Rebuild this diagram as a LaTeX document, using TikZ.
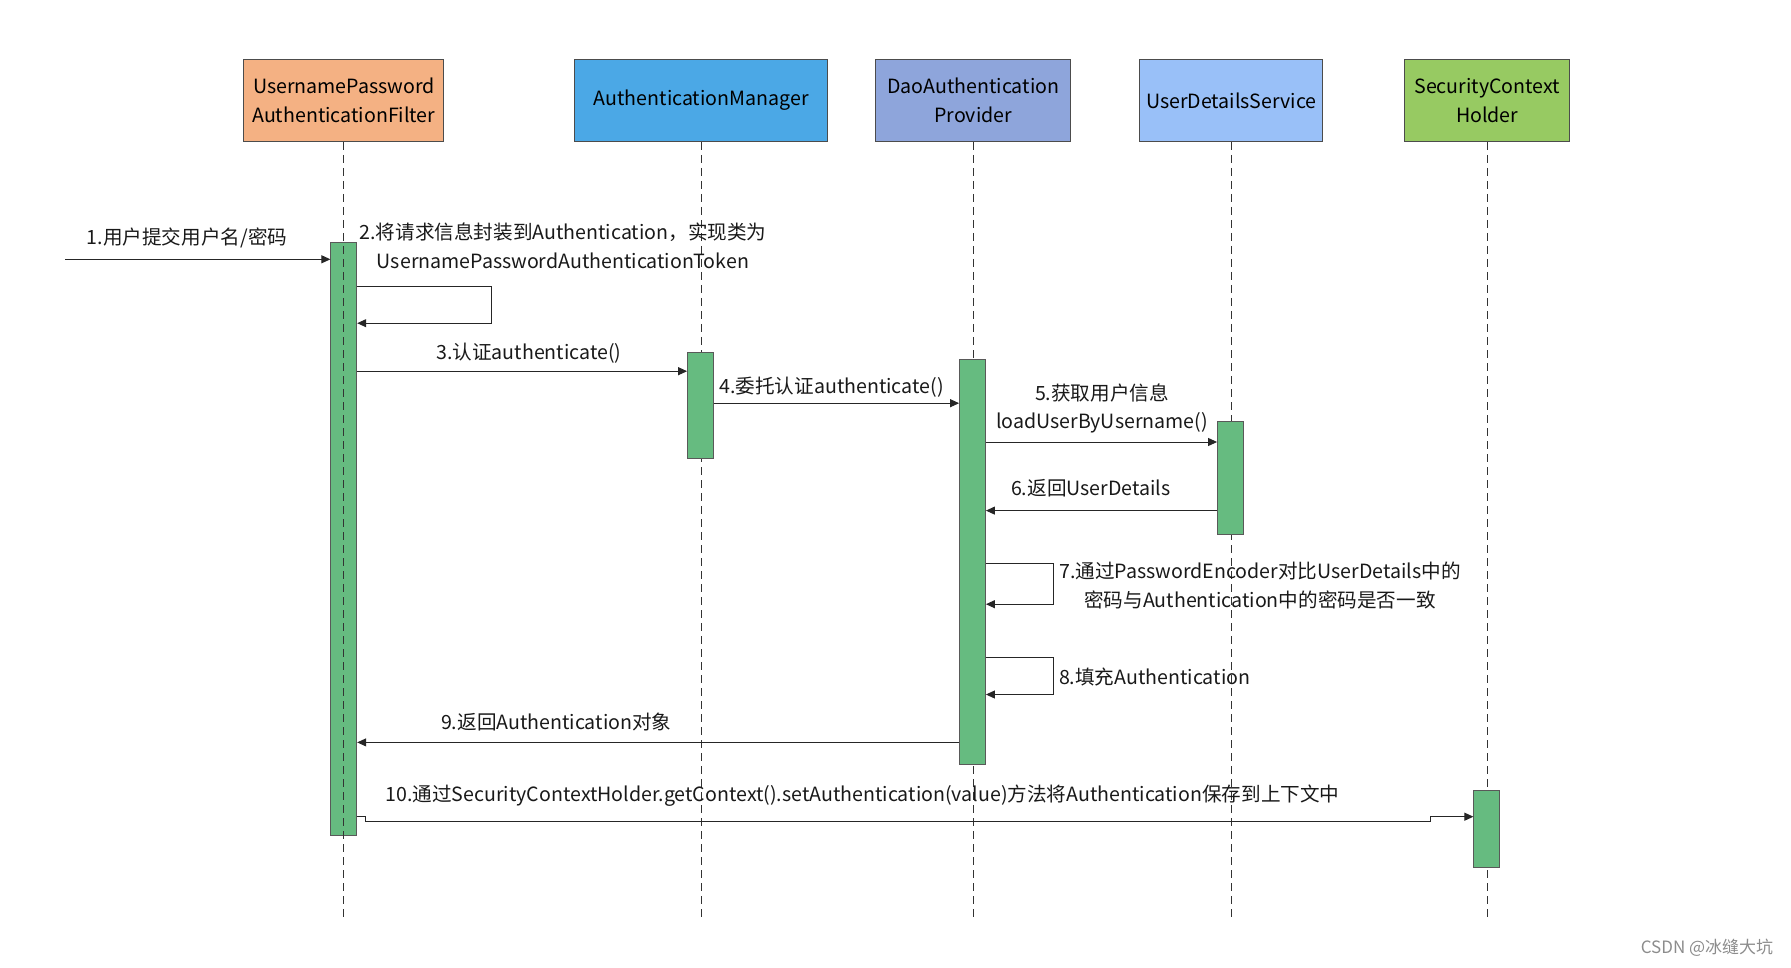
\documentclass[tikz,border=0pt]{standalone}
\usepackage{fontspec}
\setmainfont{Noto Sans CJK SC}
\usetikzlibrary{arrows.meta}
\definecolor{cUP}{HTML}{F4B183}
\definecolor{cAM}{HTML}{4BA8E6}
\definecolor{cDAP}{HTML}{8EA5DB}
\definecolor{cUDS}{HTML}{99C0F8}
\definecolor{cSCH}{HTML}{97CA62}
\definecolor{barg}{HTML}{66BB80}
\begin{document}
\begin{tikzpicture}[x=1pt,y=-1pt,
  hdr/.style={draw=black!70, line width=1pt, minimum height=82pt, align=center,
    font=\fontsize{19.6}{28.5}\selectfont, inner sep=0pt},
  actbar/.style={draw=black!65, fill=barg, line width=0.8pt, minimum width=26pt, inner sep=0pt},
  msg/.style={-{Triangle[length=9pt,width=8pt]}, line width=1pt, draw=black!85},
  lbl/.style={font=\fontsize{19.6}{28.5}\selectfont, inner sep=0pt, align=center, text=black!90},
  life/.style={dash pattern=on 8pt off 5pt, line width=1pt, draw=black!80}]
\useasboundingbox (0,0) rectangle (1791,968);
% headers
\node[hdr, fill=cUP, minimum width=200pt] (hUP) at (343.8,100.5) {UsernamePassword\\AuthenticationFilter};
\node[hdr, fill=cAM, minimum width=253pt] (hAM) at (701.3,100.5) {AuthenticationManager};
\node[hdr, fill=cDAP, minimum width=195pt] (hDAP) at (973.2,100.5) {DaoAuthentication\\Provider};
\node[hdr, fill=cUDS, minimum width=183pt] (hUDS) at (1231.3,100.5) {UserDetailsService};
\node[hdr, fill=cSCH, minimum width=165pt] (hSCH) at (1487.2,100.5) {SecurityContext\\Holder};
% lifeline ends
\coordinate (eUP) at (343.8,920);
\coordinate (eAM) at (701.3,920);
\coordinate (eDAP) at (973.2,920);
\coordinate (eUDS) at (1231.3,920);
\coordinate (eSCH) at (1487.2,920);
\draw[life] (hAM.south) -- (eAM);
\draw[life] (hDAP.south) -- (eDAP);
\draw[life] (hUDS.south) -- (eUDS);
\draw[life] (hSCH.south) -- (eSCH);
% activation bars
\node[actbar, minimum height=593pt] (bUP) at (343.8,538.5) {};
\node[actbar, minimum height=106pt] (bAM) at (700.5,405) {};
\node[actbar, minimum height=405pt] (bDAP) at (972.5,561.4) {};
\node[actbar, minimum height=113pt] (bUDS) at (1230.5,478) {};
\node[actbar, minimum height=77pt] (bSCH) at (1486.8,828.7) {};
\draw[life] (hUP.south) -- (eUP);
% 1
\coordinate (s1) at (65,259.3);
\draw[msg] (s1) -- (bUP.west |- 0,259.3);
\node[lbl] (l1) at (187,237.6) {1.用户提交用户名/密码};
% 2
\draw[msg] (bUP.east |- 0,286.7) -- (491,286.7) -- (491,323.2) -- (bUP.east |- 0,323.2);
\node[lbl] (l2) at (563,246) {2.将请求信息封装到Authentication，实现类为\\UsernamePasswordAuthenticationToken};
% 3
\draw[msg] (bUP.east |- 0,371.2) -- (bAM.west |- 0,371.2);
\node[lbl] (l3) at (528.8,353) {3.认证authenticate()};
% 4
\draw[msg] (bAM.east |- 0,403.2) -- (bDAP.west |- 0,403.2);
\node[lbl] (l4) at (831.5,387.2) {4.委托认证authenticate()};
% 5
\draw[msg] (bDAP.east |- 0,442) -- (bUDS.west |- 0,442);
\node[lbl] (l5) at (1102,408.3) {5.获取用户信息\\loadUserByUsername()};
% 6
\draw[msg] (bUDS.west |- 0,510.6) -- (bDAP.east |- 0,510.6);
\node[lbl] (l6) at (1090.8,487.7) {6.返回UserDetails};
% 7
\draw[msg] (bDAP.east |- 0,563) -- (1053,563) -- (1053,604.2) -- (bDAP.east |- 0,604.2);
\node[lbl] (l7) at (1260,585.3) {7.通过PasswordEncoder对比UserDetails中的\\密码与Authentication中的密码是否一致};
% 8
\draw[msg] (bDAP.east |- 0,657.9) -- (1053,657.9) -- (1053,694.5) -- (bDAP.east |- 0,694.5);
\node[lbl, anchor=west] (l8) at (1058.8,677.3) {8.填充Authentication};
% 9
\draw[msg] (bDAP.west |- 0,742.4) -- (bUP.east |- 0,742.4);
\node[lbl] (l9) at (556.3,721.9) {9.返回Authentication对象};
% 10
\draw[msg] (bUP.east |- 0,816.7) -- (365.5,816.7) -- (365.5,821.2) -- (1430,821.2) -- (1430,816.7) -- (bSCH.west |- 0,816.7);
\node[lbl] (l10) at (862.4,796.1) {10.通过SecurityContextHolder.getContext().setAuthentication(value)方法将Authentication保存到上下文中};
% watermark
\node[font=\fontsize{17}{17}\selectfont, text=black!45, inner sep=0pt] (wm) at (1707,948) {CSDN @冰缝大坑};
\end{tikzpicture}
\end{document}
